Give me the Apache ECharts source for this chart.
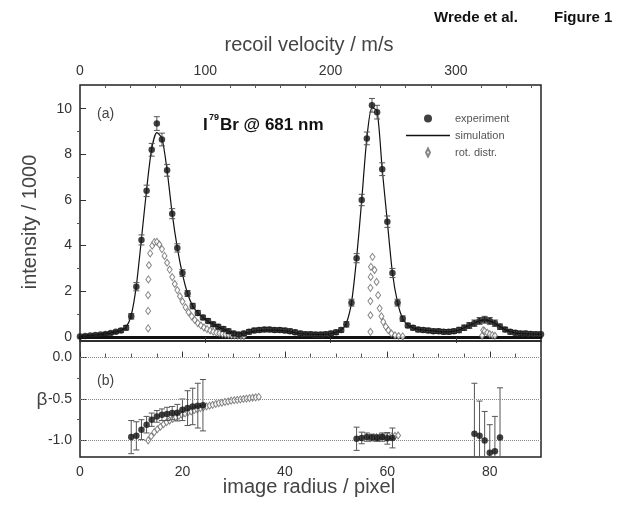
<!DOCTYPE html>
<html><head><meta charset="utf-8">
<script src="https://cdn.jsdelivr.net/npm/echarts@6/dist/echarts.min.js"></script>
<style>html,body{margin:0;padding:0;background:#fff}#c{width:634px;height:506px}</style>
</head><body><div id="c"></div>
<script>
// ---------- data ----------
const radius = [0,1,2,3,4,5,6,7,8,9,10,11,12,13,14,15,16,17,18,19,20,21,22,23,24,25,26,27,28,29,30,31,32,33,34,35,36,37,38,39,40,41,42,43,44,45,46,47,48,49,50,51,52,53,54,55,56,57,58,59,60,61,62,63,64,65,66,67,68,69,70,71,72,73,74,75,76,77,78,79,80,81,82,83,84,85,86,87,88,89,90];
const expIntensity = [0.02,0.04,0.06,0.08,0.1,0.13,0.17,0.22,0.28,0.4,
  0.9,2.2,4.25,6.4,8.2,9.35,8.65,7.3,5.4,3.9,
  2.8,1.9,1.35,1.05,0.85,0.7,0.55,0.45,0.35,0.25,
  0.15,0.1,0.15,0.22,0.28,0.3,0.32,0.32,0.3,0.3,
  0.28,0.25,0.2,0.15,0.12,0.12,0.1,0.1,0.12,0.15,
  0.2,0.3,0.55,1.5,3.45,6.0,8.7,10.15,9.85,7.35,
  5.05,2.8,1.5,0.8,0.5,0.4,0.32,0.3,0.28,0.25,
  0.25,0.22,0.22,0.25,0.3,0.4,0.5,0.6,0.7,0.75,
  0.7,0.6,0.45,0.32,0.22,0.18,0.15,0.15,0.13,0.12,0.12];
const expError = [0.05,0.05,0.05,0.05,0.05,0.06,0.06,0.07,0.08,0.1,
  0.12,0.18,0.22,0.25,0.28,0.3,0.28,0.26,0.22,0.18,
  0.15,0.13,0.12,0.11,0.1,0.1,0.1,0.1,0.1,0.1,
  0.1,0.1,0.1,0.1,0.1,0.1,0.1,0.1,0.1,0.1,
  0.1,0.1,0.1,0.1,0.1,0.1,0.1,0.1,0.1,0.1,
  0.1,0.1,0.12,0.15,0.2,0.25,0.28,0.3,0.3,0.28,
  0.25,0.2,0.15,0.12,0.1,0.1,0.1,0.1,0.1,0.1,
  0.1,0.1,0.1,0.1,0.12,0.12,0.13,0.14,0.15,0.15,
  0.15,0.14,0.12,0.1,0.1,0.1,0.1,0.1,0.1,0.1,0.1];
const simIntensity = [0.02,0.04,0.06,0.08,0.1,0.13,0.17,0.22,0.28,0.42,
  0.95,2.25,4.3,6.45,8.25,8.95,8.7,7.3,5.4,3.9,
  2.75,1.9,1.35,1.05,0.85,0.68,0.55,0.44,0.34,0.25,
  0.17,0.13,0.15,0.2,0.25,0.28,0.3,0.3,0.3,0.28,
  0.26,0.23,0.19,0.15,0.13,0.12,0.11,0.11,0.12,0.15,
  0.2,0.3,0.6,1.5,3.45,6.0,8.7,10.05,9.9,7.35,
  5.05,2.8,1.5,0.8,0.52,0.4,0.33,0.3,0.28,0.26,
  0.24,0.22,0.22,0.25,0.3,0.4,0.5,0.6,0.7,0.75,
  0.7,0.6,0.45,0.32,0.23,0.18,0.15,0.14,0.13,0.12,0.12];
const rotRadius = [13.3,13.3,13.3,13.35,13.45,13.7,14.1,14.5,15.0,15.5,16.0,16.5,17.0,17.5,18.0,18.5,19.0,19.5,20.0,20.6,21.2,21.8,22.4,23.0,23.6,24.2,24.8,25.4,26.0,26.6,27.2,27.8,28.4,29.0,29.6,30.2,30.8,31.4,32.0,
  56.7,56.7,56.7,56.7,56.75,56.8,57.1,57.5,57.9,58.2,58.5,58.85,59.2,59.7,60.2,60.8,61.5,62.2,63.0,
  78.5,78.7,79.0,79.5,80.0,80.5,81.0];
const rotIntensity = [0.37,1.14,1.83,2.52,3.14,3.66,4.0,4.15,4.17,4.05,3.85,3.55,3.25,2.95,2.62,2.32,2.05,1.78,1.55,1.3,1.08,0.9,0.74,0.6,0.5,0.41,0.34,0.28,0.23,0.19,0.16,0.13,0.11,0.09,0.07,0.06,0.05,0.04,0.03,
  0.22,0.95,1.57,2.15,2.63,3.07,3.51,2.93,2.41,1.83,1.25,0.9,0.66,0.45,0.29,0.15,0.07,0.04,0.02,
  0.05,0.29,0.25,0.18,0.12,0.08,0.05];
const betaRadius = [10,11,12,13,14,15,16,17,18,19,20,21,22,23,24,
  54,55,56,57,58,59,60,61,
  77,78,79,80,81,82];
const betaValue = [-0.96,-0.945,-0.87,-0.81,-0.75,-0.71,-0.69,-0.68,-0.67,-0.665,-0.63,-0.61,-0.59,-0.58,-0.575,
  -0.98,-0.97,-0.96,-0.965,-0.97,-0.96,-0.975,-0.97,
  -0.92,-0.945,-1.0,-1.15,-1.13,-0.965];
const betaError = [0.2,0.17,0.12,0.1,0.08,0.07,0.07,0.08,0.08,0.1,0.13,0.21,0.22,0.27,0.31,
  0.14,0.07,0.05,0.04,0.04,0.05,0.07,0.12,
  0.61,0.42,0.35,0.34,0.42,0.6];
const rotBetaRadius = [13.3,13.9,14.5,15.1,15.7,16.3,16.9,17.5,18.1,18.7,19.3,19.9,20.5,21.1,21.7,22.3,22.9,23.5,24.1,24.7,25.3,25.9,26.5,27.1,27.7,28.3,28.9,29.5,30.1,30.7,31.3,31.9,32.5,33.1,33.7,34.3,34.9,
  56.7,57.3,57.9,58.5,59.1,59.7,60.3,60.9,61.5,62.1];
const rotBeta = [-1.0,-0.95,-0.9,-0.865,-0.835,-0.805,-0.78,-0.76,-0.74,-0.72,-0.705,-0.69,-0.675,-0.66,-0.65,-0.635,-0.625,-0.61,-0.6,-0.59,-0.58,-0.57,-0.56,-0.55,-0.545,-0.535,-0.53,-0.52,-0.515,-0.51,-0.505,-0.5,-0.495,-0.49,-0.485,-0.48,-0.475,
  -0.97,-0.965,-0.96,-0.96,-0.955,-0.955,-0.95,-0.95,-0.945,-0.94];
const velocityTicks = [0,100,200,300];
const velocityMinor = [20,40,60,80,120,140,160,180,220,240,260,280,320,340,360];
const radiusTicks = [0,20,40,60,80];
const radiusMinor = [5,10,15,25,30,35,45,50,55,65,70,75,85];
const intensityTicks = [0,2,4,6,8,10];
const intensityMinor = [1,3,5,7,9];
const betaTicks = [0,-0.5,-1.0];
const betaMinor = [-0.25,-0.75];

// ---------- chart ----------
const font = 'Liberation Sans, Arial, sans-serif';
const lab = {color:'#333', fontSize:14, fontFamily:font};
const none = {show:false};
function errRender(params, api){
  const x=api.value(0), y=api.value(1), e=api.value(2);
  const p1=api.coord([x,y+e]), p2=api.coord([x,y-e]);
  const w=3, st={stroke:'#555', lineWidth:1};
  return {type:'group', children:[
    {type:'line', shape:{x1:p1[0],y1:p1[1],x2:p2[0],y2:p2[1]}, style:st},
    {type:'line', shape:{x1:p1[0]-w,y1:p1[1],x2:p1[0]+w,y2:p1[1]}, style:st},
    {type:'line', shape:{x1:p2[0]-w,y1:p2[1],x2:p2[0]+w,y2:p2[1]}, style:st}
  ]};
}
const expData = radius.map((r,i)=>[r, expIntensity[i]]);
const expErrData = radius.map((r,i)=>[r, expIntensity[i], expError[i]]);
const simData = radius.map((r,i)=>[r, simIntensity[i]]);
const rotData = rotRadius.map((r,i)=>[r, rotIntensity[i]]);
const betaData = betaRadius.map((r,i)=>[r, betaValue[i]]);
const betaErrData = betaRadius.map((r,i)=>[r, betaValue[i], betaError[i]]);
const rotBetaData = rotBetaRadius.map((r,i)=>[r, rotBeta[i]]);

const chart = echarts.init(document.getElementById('c'), null, {renderer:'canvas'});
chart.setOption({
  animation:false,
  backgroundColor:'#fff',
  textStyle:{fontFamily:font},
  grid:[
    {left:80, top:85, width:461, height:256, show:true, borderColor:'#222', borderWidth:1.5, backgroundColor:'transparent'},
    {left:80, top:341, width:461, height:116, show:true, borderColor:'#222', borderWidth:1.5, backgroundColor:'transparent'}
  ],
  legend:{
    orient:'vertical', left:401, top:108, itemWidth:44, itemHeight:8, itemGap:6,
    textStyle:{fontSize:11, color:'#555', fontFamily:font},
    data:[
      {name:'experiment', icon:'circle'},
      {name:'simulation', icon:'path://M0,0 L44,0 L44,1.3 L0,1.3 Z'},
      {name:'rot. distr.', icon:'path://M5,0 L9,8 L5,16 L1,8 Z'}
    ]
  },
  xAxis:[
    {gridIndex:0, type:'value', min:0, max:90, axisLine:{show:true, lineStyle:{color:'#111', width:3}}, axisTick:none, axisLabel:none, splitLine:none},
    {gridIndex:0, type:'value', position:'top', min:0, max:368, axisLine:none,
     axisTick:{inside:true, length:6, customValues:velocityTicks, lineStyle:{color:'#333'}},
     axisLabel:{...lab, customValues:velocityTicks, margin:7}, splitLine:none},
    {gridIndex:0, type:'value', position:'top', min:0, max:368, axisLine:none,
     axisTick:{inside:true, length:3, customValues:velocityMinor, lineStyle:{color:'#555'}},
     axisLabel:none, splitLine:none},
    {gridIndex:1, type:'value', position:'bottom', min:0, max:90, axisLine:none,
     axisTick:{inside:true, length:6, customValues:radiusTicks, lineStyle:{color:'#333'}},
     axisLabel:{...lab, customValues:radiusTicks, margin:8}, splitLine:none},
    {gridIndex:1, type:'value', position:'bottom', min:0, max:90, axisLine:none,
     axisTick:{inside:true, length:4, customValues:radiusMinor, lineStyle:{color:'#555'}},
     axisLabel:none, splitLine:none}
  ],
  yAxis:[
    {gridIndex:0, type:'value', min:-0.18, max:11.04, axisLine:none,
     axisTick:{inside:true, length:6, customValues:intensityTicks, lineStyle:{color:'#333'}},
     axisLabel:{...lab, customValues:intensityTicks, margin:8}, splitLine:none},
    {gridIndex:0, type:'value', min:-0.18, max:11.04, axisLine:none,
     axisTick:{inside:true, length:3, customValues:intensityMinor, lineStyle:{color:'#555'}},
     axisLabel:none, splitLine:none},
    {gridIndex:1, type:'value', min:-1.2, max:0.2, axisLine:none,
     axisTick:{inside:true, length:6, customValues:betaTicks, lineStyle:{color:'#333'}},
     axisLabel:{...lab, customValues:betaTicks, margin:8, formatter:v=>Number(v).toFixed(1)}, splitLine:none},
    {gridIndex:1, type:'value', min:-1.2, max:0.2, axisLine:none,
     axisTick:{inside:true, length:3, customValues:betaMinor, lineStyle:{color:'#555'}},
     axisLabel:none, splitLine:none}
  ],
  series:[
    {name:'simulation', type:'line', xAxisIndex:0, yAxisIndex:0, data:simData, symbol:'none', smooth:0.25,
     lineStyle:{color:'#111', width:1.2}, itemStyle:{color:'#111'}, z:2},
    {name:'rot. distr.', type:'scatter', xAxisIndex:0, yAxisIndex:0, data:rotData, symbol:'diamond', symbolSize:[5,7],
     itemStyle:{color:'#fff', borderColor:'#666', borderWidth:1}, z:3},
    {name:'experimentErr', type:'custom', xAxisIndex:0, yAxisIndex:0, data:expErrData, renderItem:errRender,
     encode:{x:0, y:1}, clip:true, z:4},
    {name:'experiment', type:'scatter', xAxisIndex:0, yAxisIndex:0, data:expData, symbol:'circle', symbolSize:6.5,
     itemStyle:{color:'#111'}, z:5},
    {name:'rot. distr.', type:'scatter', xAxisIndex:3, yAxisIndex:2, data:rotBetaData, symbol:'diamond', symbolSize:[5,7],
     itemStyle:{color:'#fff', borderColor:'#666', borderWidth:1}, z:3,
     markLine:{silent:true, symbol:'none', label:{show:false}, lineStyle:{type:'dotted', color:'#888', width:1},
       data:[{yAxis:0},{yAxis:-0.5},{yAxis:-1.0}]}},
    {name:'betaErr', type:'custom', xAxisIndex:3, yAxisIndex:2, data:betaErrData, renderItem:errRender,
     encode:{x:0, y:1}, clip:true, z:4},
    {name:'experiment', type:'scatter', xAxisIndex:3, yAxisIndex:2, data:betaData, symbol:'circle', symbolSize:6.5,
     itemStyle:{color:'#111'}, z:5}
  ],
  graphic:[
    {type:'text', left:434, top:10, style:{text:'Wrede et al.', font:'bold 15px '+font, fill:'#111'}},
    {type:'text', left:554, top:10, style:{text:'Figure 1', font:'bold 15px '+font, fill:'#111'}},
    {type:'text', x:309, y:45, style:{text:'recoil velocity / m/s', fontSize:20, fontFamily:font, fill:'#444', align:'center', verticalAlign:'middle'}},
    {type:'text', x:30, y:222, rotation:Math.PI/2, style:{text:'intensity / 1000', fontSize:20, fontFamily:font, fill:'#444', align:'center', verticalAlign:'middle'}},
    {type:'text', x:42, y:400, style:{text:'β', fontSize:19, fontFamily:font, fill:'#444', align:'center', verticalAlign:'middle'}},
    {type:'text', x:309, y:487, style:{text:'image radius / pixel', fontSize:20, fontFamily:font, fill:'#444', align:'center', verticalAlign:'middle'}},
    {type:'text', x:97, y:114, style:{text:'(a)', fontSize:14, fontFamily:font, fill:'#444', verticalAlign:'middle'}},
    {type:'text', x:97, y:381, style:{text:'(b)', fontSize:14, fontFamily:font, fill:'#444', verticalAlign:'middle'}},
    {type:'text', x:203, y:125, style:{text:'I', font:'bold 17px '+font, fill:'#111', verticalAlign:'middle'}},
    {type:'text', x:209, y:118, style:{text:'79', font:'bold 9px '+font, fill:'#111', verticalAlign:'middle'}},
    {type:'text', x:220, y:125, style:{text:'Br @ 681 nm', font:'bold 17px '+font, fill:'#111', verticalAlign:'middle'}}
  ]
});
</script>
</body></html>
